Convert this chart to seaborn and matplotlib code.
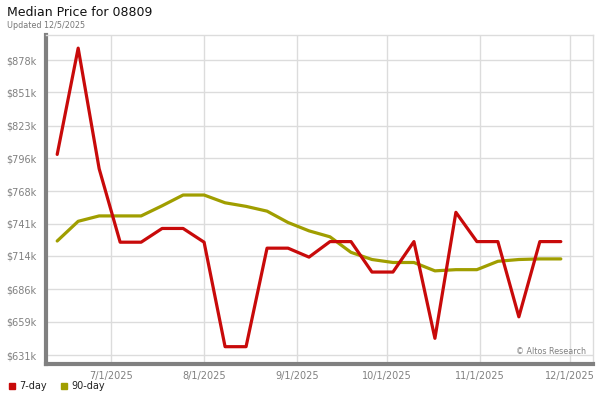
import numpy as np
import pandas as pd
import matplotlib.pyplot as plt
from matplotlib.lines import Line2D
import seaborn as sns

# weekly data points, values in $k
dates = pd.date_range("2025-06-13", periods=25, freq="7D")
price_7day = [799, 888, 787, 725.5, 725.5, 737, 737, 725.5, 638, 638,
              720.5, 720.5, 713, 726, 726, 700.5, 700.5, 726, 645, 750.5,
              726, 726, 663, 726, 726]
price_90day = [726.5, 743, 747.5, 747.5, 747.5, 756, 765, 765, 758.5, 755.5,
               751.5, 742, 735, 730, 717, 711, 708.5, 708.5, 701.5, 702.5,
               702.5, 709.5, 711, 711.5, 711.5]
series_names = ["7-day", "90-day"]
series_colors = ["#c80a0a", "#a09e00"]
ytick_vals = [631, 659, 686, 714, 741, 768, 796, 823, 851, 878]
ytick_labels = ["$%dk" % v for v in ytick_vals]
xtick_dates = pd.to_datetime(["2025-07-01", "2025-08-01", "2025-09-01",
                              "2025-10-01", "2025-11-01", "2025-12-01"])
xtick_labels = ["7/1/2025", "8/1/2025", "9/1/2025", "10/1/2025", "11/1/2025", "12/1/2025"]

df = pd.DataFrame({
    "date": np.concatenate([dates, dates]),
    "price": price_7day + price_90day,
    "series": [series_names[0]] * len(dates) + [series_names[1]] * len(dates),
})

sns.set_style("white")
plt.rcParams["font.family"] = ["DejaVu Sans"]

fig = plt.figure(figsize=(6, 4), dpi=100)
ax = fig.add_axes([0.077, 0.09, 0.911, 0.8225])

sns.lineplot(data=df, x="date", y="price", hue="series", hue_order=series_names[::-1],
             palette=dict(zip(series_names, series_colors)), linewidth=2.3,
             legend=False, ax=ax)

ax.set_xlim(pd.Timestamp("2025-06-09 08:00"), pd.Timestamp("2025-12-08 16:00"))
ax.set_ylim(623.5, 899)

ax.set_yticks(ytick_vals)
ax.set_yticklabels(ytick_labels)
ax.set_xticks(xtick_dates)
ax.set_xticklabels(xtick_labels)
ax.tick_params(axis="both", length=0, labelsize=7, labelcolor="#808080")
ax.tick_params(axis="x", pad=5)
ax.tick_params(axis="y", pad=7)

ax.grid(True, color="#dcdcdc", linewidth=1)
ax.set_axisbelow(True)
ax.set_xlabel("")
ax.set_ylabel("")

for side in ["left", "bottom"]:
    ax.spines[side].set_color("#808080")
    ax.spines[side].set_linewidth(3)
for side in ["top", "right"]:
    ax.spines[side].set_color("#dcdcdc")
    ax.spines[side].set_linewidth(1)

ax.text(0.987, 0.025, "\u00a9 Altos Research", transform=ax.transAxes,
        ha="right", va="bottom", fontsize=5.8, color="#808080")

fig.text(0.012, 0.968, "Median Price for 08809", fontsize=9, color="#111111",
         ha="left", va="center")
fig.text(0.012, 0.936, "Updated 12/5/2025", fontsize=5.8, color="#777777",
         ha="left", va="center")

handles = [Line2D([], [], marker="s", linestyle="none", markersize=4.5,
                  color=c) for c in series_colors]
fig.legend(handles, series_names, loc="lower left", bbox_to_anchor=(-0.003, 0.0),
           ncol=2, frameon=False, fontsize=7, handletextpad=0.3,
           columnspacing=1.2, handlelength=1.0, labelcolor="#222222")

fig.savefig("out.png", dpi=100)
